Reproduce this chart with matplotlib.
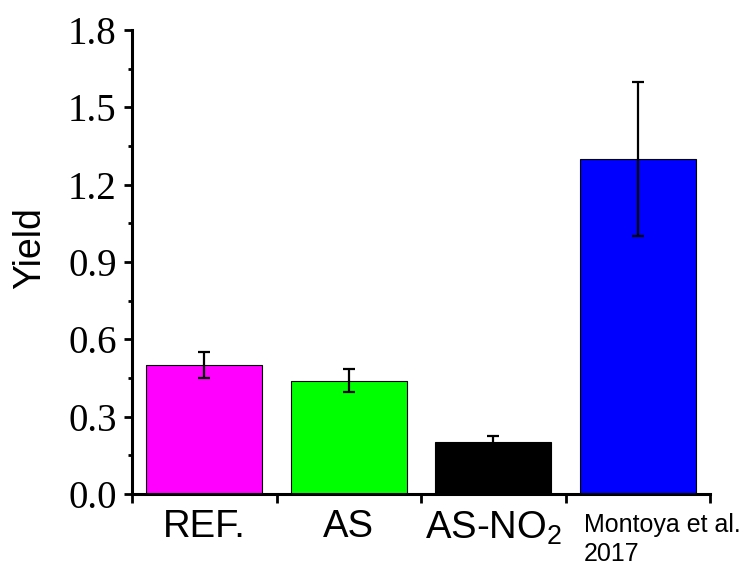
import matplotlib
matplotlib.use("Agg")
import matplotlib.pyplot as plt
import numpy as np
from matplotlib.ticker import MultipleLocator, FixedLocator

plt.rcParams['mathtext.fontset'] = 'custom'
plt.rcParams['mathtext.rm'] = 'Liberation Sans'
plt.rcParams['mathtext.it'] = 'Liberation Sans:italic'

categories = ["REF.", "AS", "AS-NO$_2$", "Montoya et al.\n2017"]
yields = [0.50, 0.44, 0.20, 1.30]
errors = [0.05, 0.044, 0.025, 0.30]
colors = ["#FF00FF", "#00FF00", "#000000", "#0000FF"]

fig = plt.figure(figsize=(7.54, 5.7), dpi=100)
ax = fig.add_axes([132/754, 76/570, 578/754, 464/570])

x = np.arange(len(categories))
ax.bar(x, yields, width=0.8, color=colors, edgecolor="black", linewidth=0.8, zorder=2)
ax.errorbar(x, yields, yerr=errors, fmt="none", ecolor="black",
            elinewidth=1.6, capsize=4, capthick=1.6, zorder=3)

ax.set_xlim(-0.5, 3.5)
ax.set_ylim(0, 1.8)

ax.spines["top"].set_visible(False)
ax.spines["right"].set_visible(False)
ax.spines["left"].set_linewidth(2.2)
ax.spines["bottom"].set_linewidth(2.2)

# y ticks
ax.yaxis.set_minor_locator(MultipleLocator(0.15))
ax.set_yticks(np.arange(0, 1.81, 0.3))
ax.set_yticklabels(["%.1f" % v for v in np.arange(0, 1.81, 0.3)],
                   family="Liberation Serif", fontsize=28)
ax.tick_params(axis="y", which="major", direction="out", length=6, width=2, pad=5)
ax.tick_params(axis="y", which="minor", direction="out", length=3, width=2)

# x ticks: labels at centres, tick marks at boundaries
ax.set_xticks(x)
ax.set_xticklabels(categories[:3] + [""], family="Liberation Sans", fontsize=27.5)
ax.xaxis.set_minor_locator(FixedLocator([-0.5, 0.5, 1.5, 2.5, 3.5]))
ax.tick_params(axis="x", which="major", length=0, pad=11)
ax.tick_params(axis="x", which="minor", direction="out", length=6.5, width=2)

# Montoya label left aligned under its bar
ax.text(2.628, -0.042, categories[3], transform=ax.get_xaxis_transform(),
        ha="left", va="top", family="Liberation Sans", fontsize=18, linespacing=1.25)

ax.set_ylabel("Yield", family="Liberation Sans", fontsize=27)
ax.yaxis.set_label_coords(-0.145, 0.53)

fig.savefig("out.png", dpi=100)
